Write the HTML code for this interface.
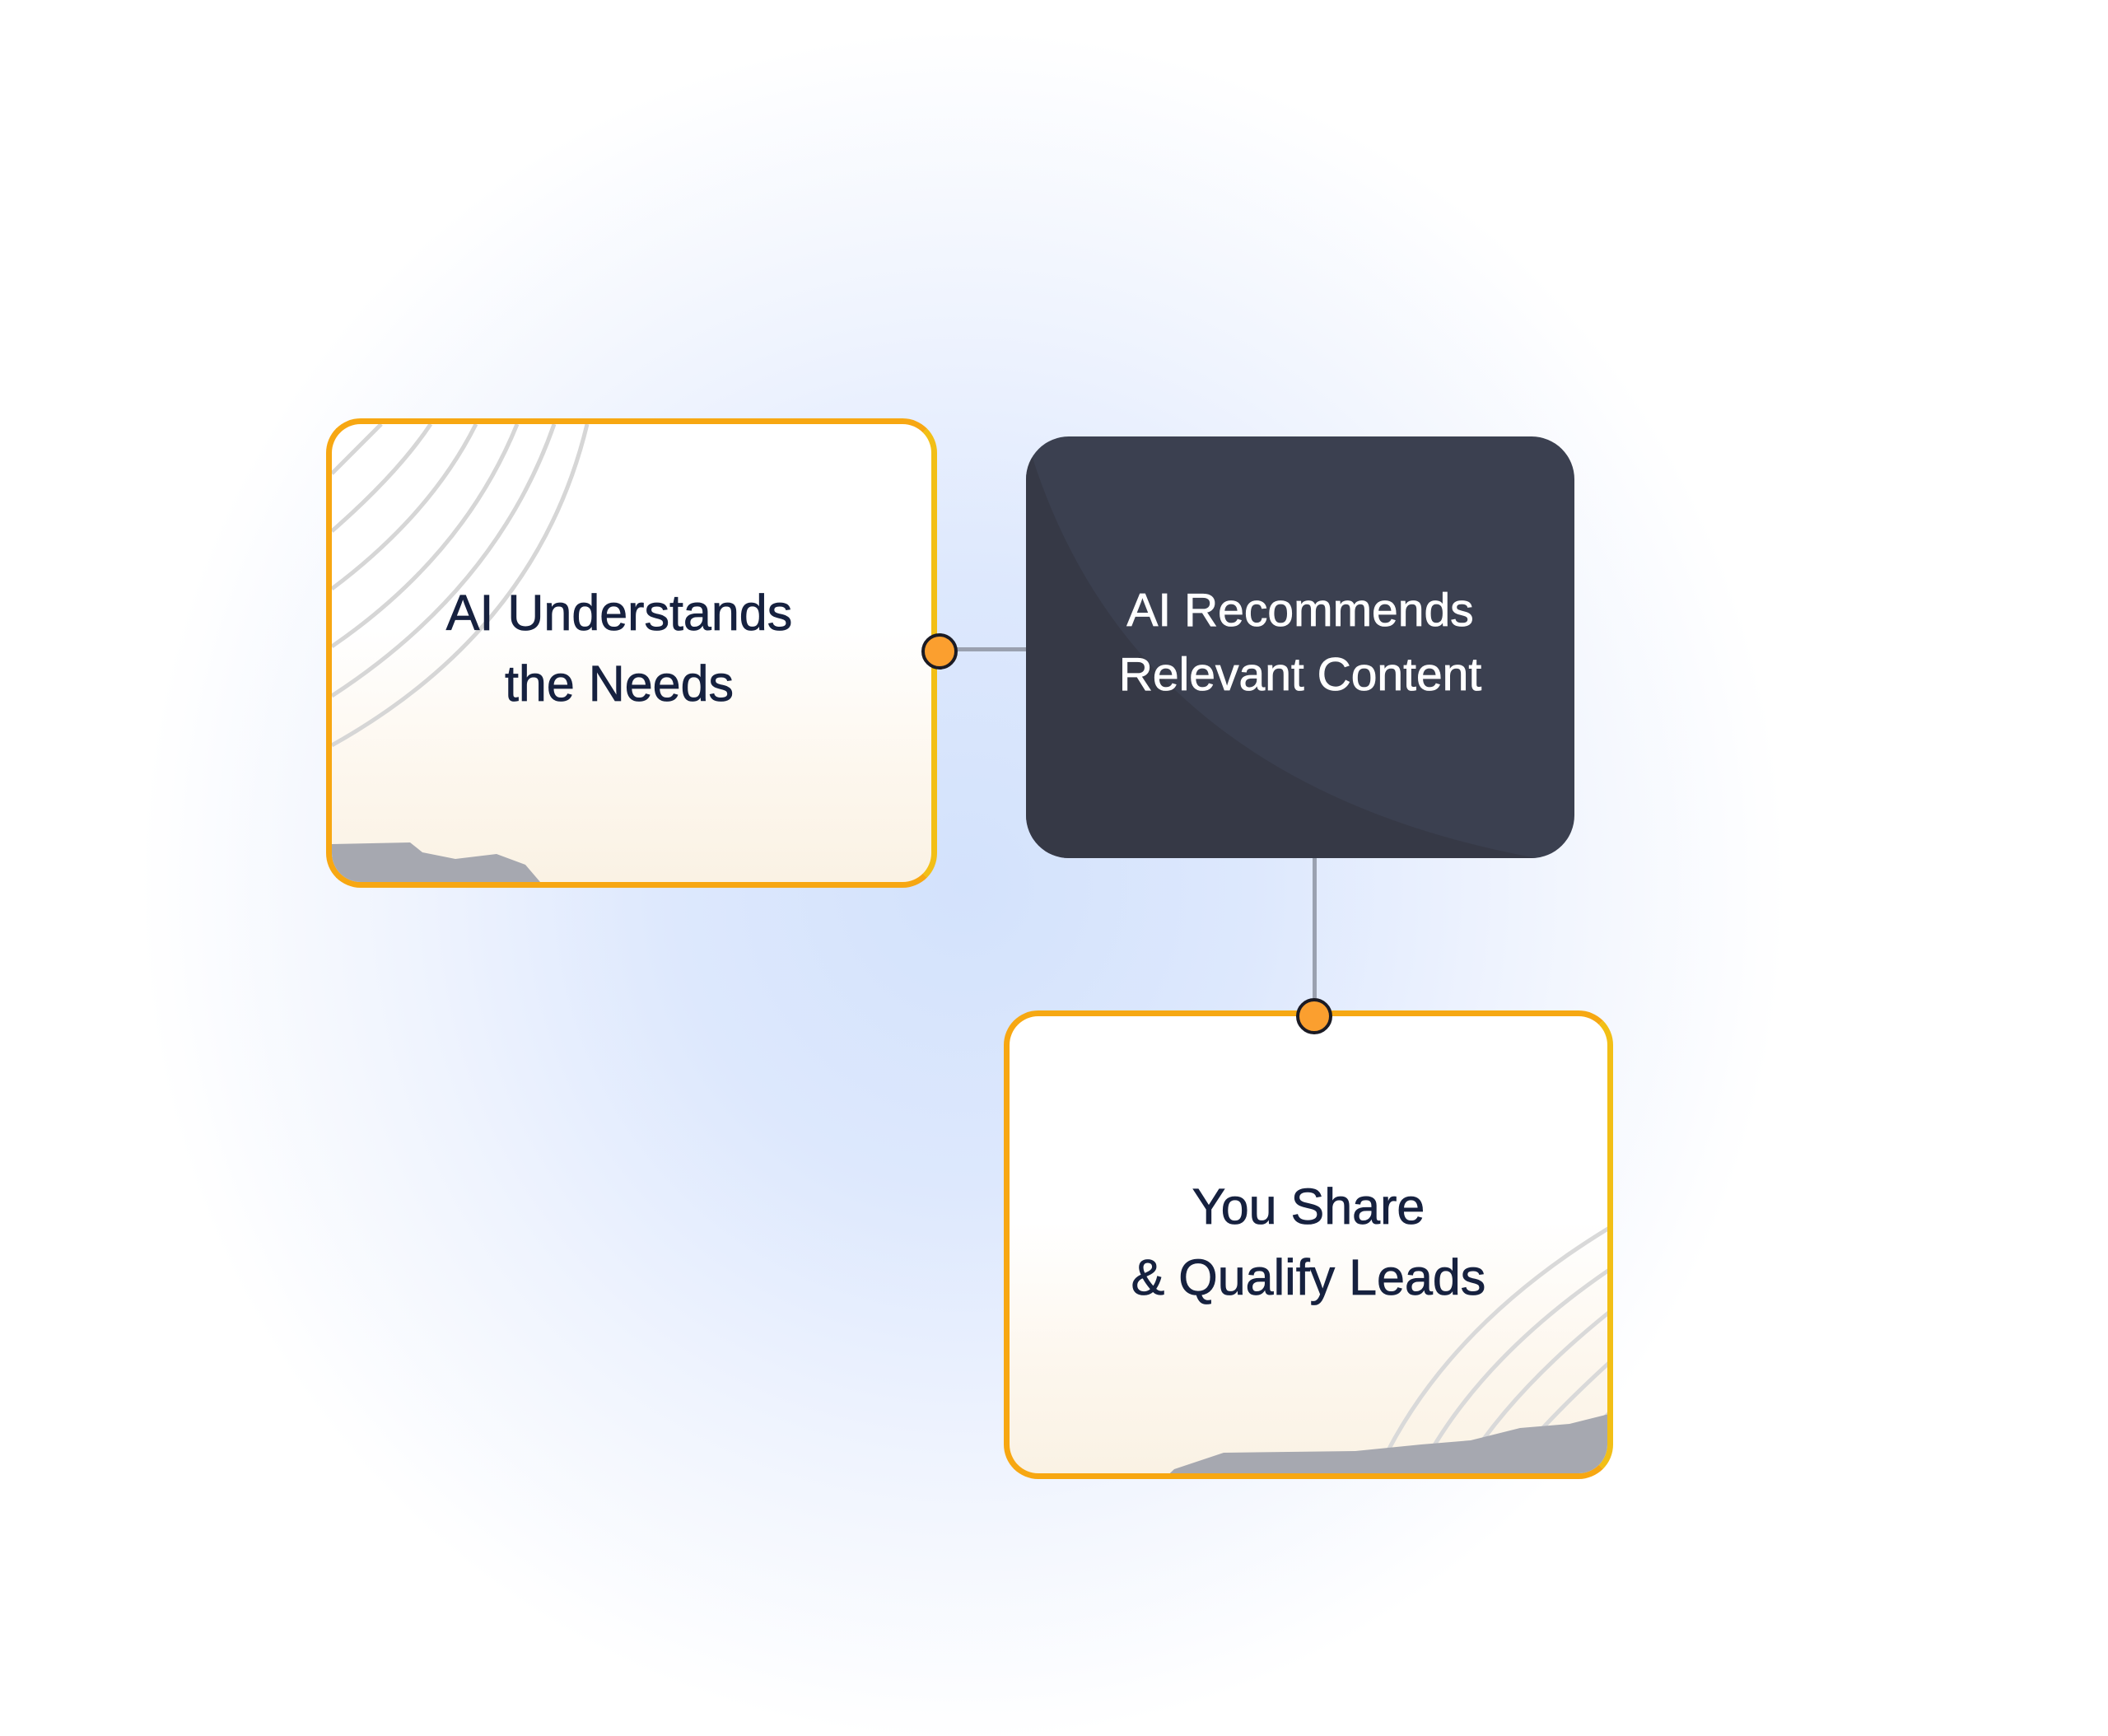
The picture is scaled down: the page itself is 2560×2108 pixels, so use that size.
<!DOCTYPE html>
<html><head><style>
html,body{margin:0;padding:0}
body{width:2560px;height:2108px;position:relative;overflow:hidden;background:#fff;font-family:"Liberation Sans",sans-serif}
.glow{position:absolute;left:0;top:0;width:2560px;height:2108px;background:radial-gradient(ellipse 1000px 1040px at 1170px 1075px,#d3e2fc 0%,#dde8fd 35%,#eef3fe 65%,#ffffff 100%)}
.card{position:absolute;box-sizing:border-box;border:7px solid #f5a514;border-radius:42px;overflow:hidden;background:linear-gradient(180deg,#ffffff 0%,#ffffff 45%,#fdf7ee 75%,#faf2e4 100%)}
.card svg{position:absolute;left:0;top:0}
.txt{position:absolute;left:0;right:0;text-align:center;font-size:61px;color:#16213f;line-height:86px;-webkit-text-stroke:0.8px currentColor}
.dark{position:absolute;left:1246px;top:530px;width:666px;height:512px;border-radius:52px;background:#3b4050;overflow:hidden}
.dot{position:absolute;width:44px;height:44px;border-radius:50%;background:#fb9f2f;border:4px solid #1b1b24;box-sizing:border-box}
</style></head><body>
<div class="glow"></div>
<div style="position:absolute;left:1134px;top:786px;width:114px;height:5px;background:#9aa1b0"></div>
<div style="position:absolute;left:1594px;top:1042px;width:5px;height:190px;background:#9aa1b0"></div>

<div class="card" style="left:396px;top:508px;width:742px;height:570px;border-color:#f7a712 #f2bf16 #f7a712 #f7a712">
<svg width="742" height="570" viewBox="0 0 742 570">
<g fill="none" stroke="#d6d6d6" stroke-width="5">
<path d="M0 60 Q40 20 60 0"/><path d="M0 130 Q80 60 120 0"/><path d="M0 200 Q120 110 175 0"/><path d="M0 270 Q160 160 225 0"/><path d="M0 330 Q200 200 270 0"/><path d="M0 390 Q250 250 310 0"/>
</g>
<path d="M0 510 L95 508 L110 520 L150 528 L200 522 L235 535 L265 570 L0 570Z" fill="#a6a8b0"/>
</svg>
<div class="txt" style="top:186px;left:-30px">AI Understands<br>the Needs</div>
</div>

<div class="dark">
<svg width="666" height="512" style="position:absolute;left:0;top:0"><path d="M0 0 Q120 420 620 512 L0 512Z" fill="#363743" opacity="0.8"/></svg>
<div class="txt" style="top:172px;color:#fff;font-size:57px;line-height:78px">AI Recommends<br>Relevant Content</div>
</div>

<div class="card" style="left:1219px;top:1227px;width:740px;height:569px;border-color:#f6a813 #f2bf16 #f7a712 #f7a712">
<svg width="740" height="569" viewBox="0 0 740 569">
<g fill="none" stroke="#d9d9d9" stroke-width="5">
<path d="M440 569 Q520 380 740 250"/><path d="M490 569 Q560 420 740 300"/><path d="M540 569 Q600 460 740 350"/><path d="M590 569 Q640 500 740 410"/><path d="M640 569 Q680 530 740 470"/>
</g>
<path d="M200 550 L260 530 L420 528 L500 520 L560 515 L620 500 L680 495 L740 480 L740 569 L180 569Z" fill="#a6a8b0"/>
</svg>
<div class="txt" style="top:188px;">You Share<br>&amp; Qualify Leads</div>
</div>

<div class="dot" style="left:1119px;top:769px"></div>
<div class="dot" style="left:1574px;top:1212px"></div>
</body></html>
